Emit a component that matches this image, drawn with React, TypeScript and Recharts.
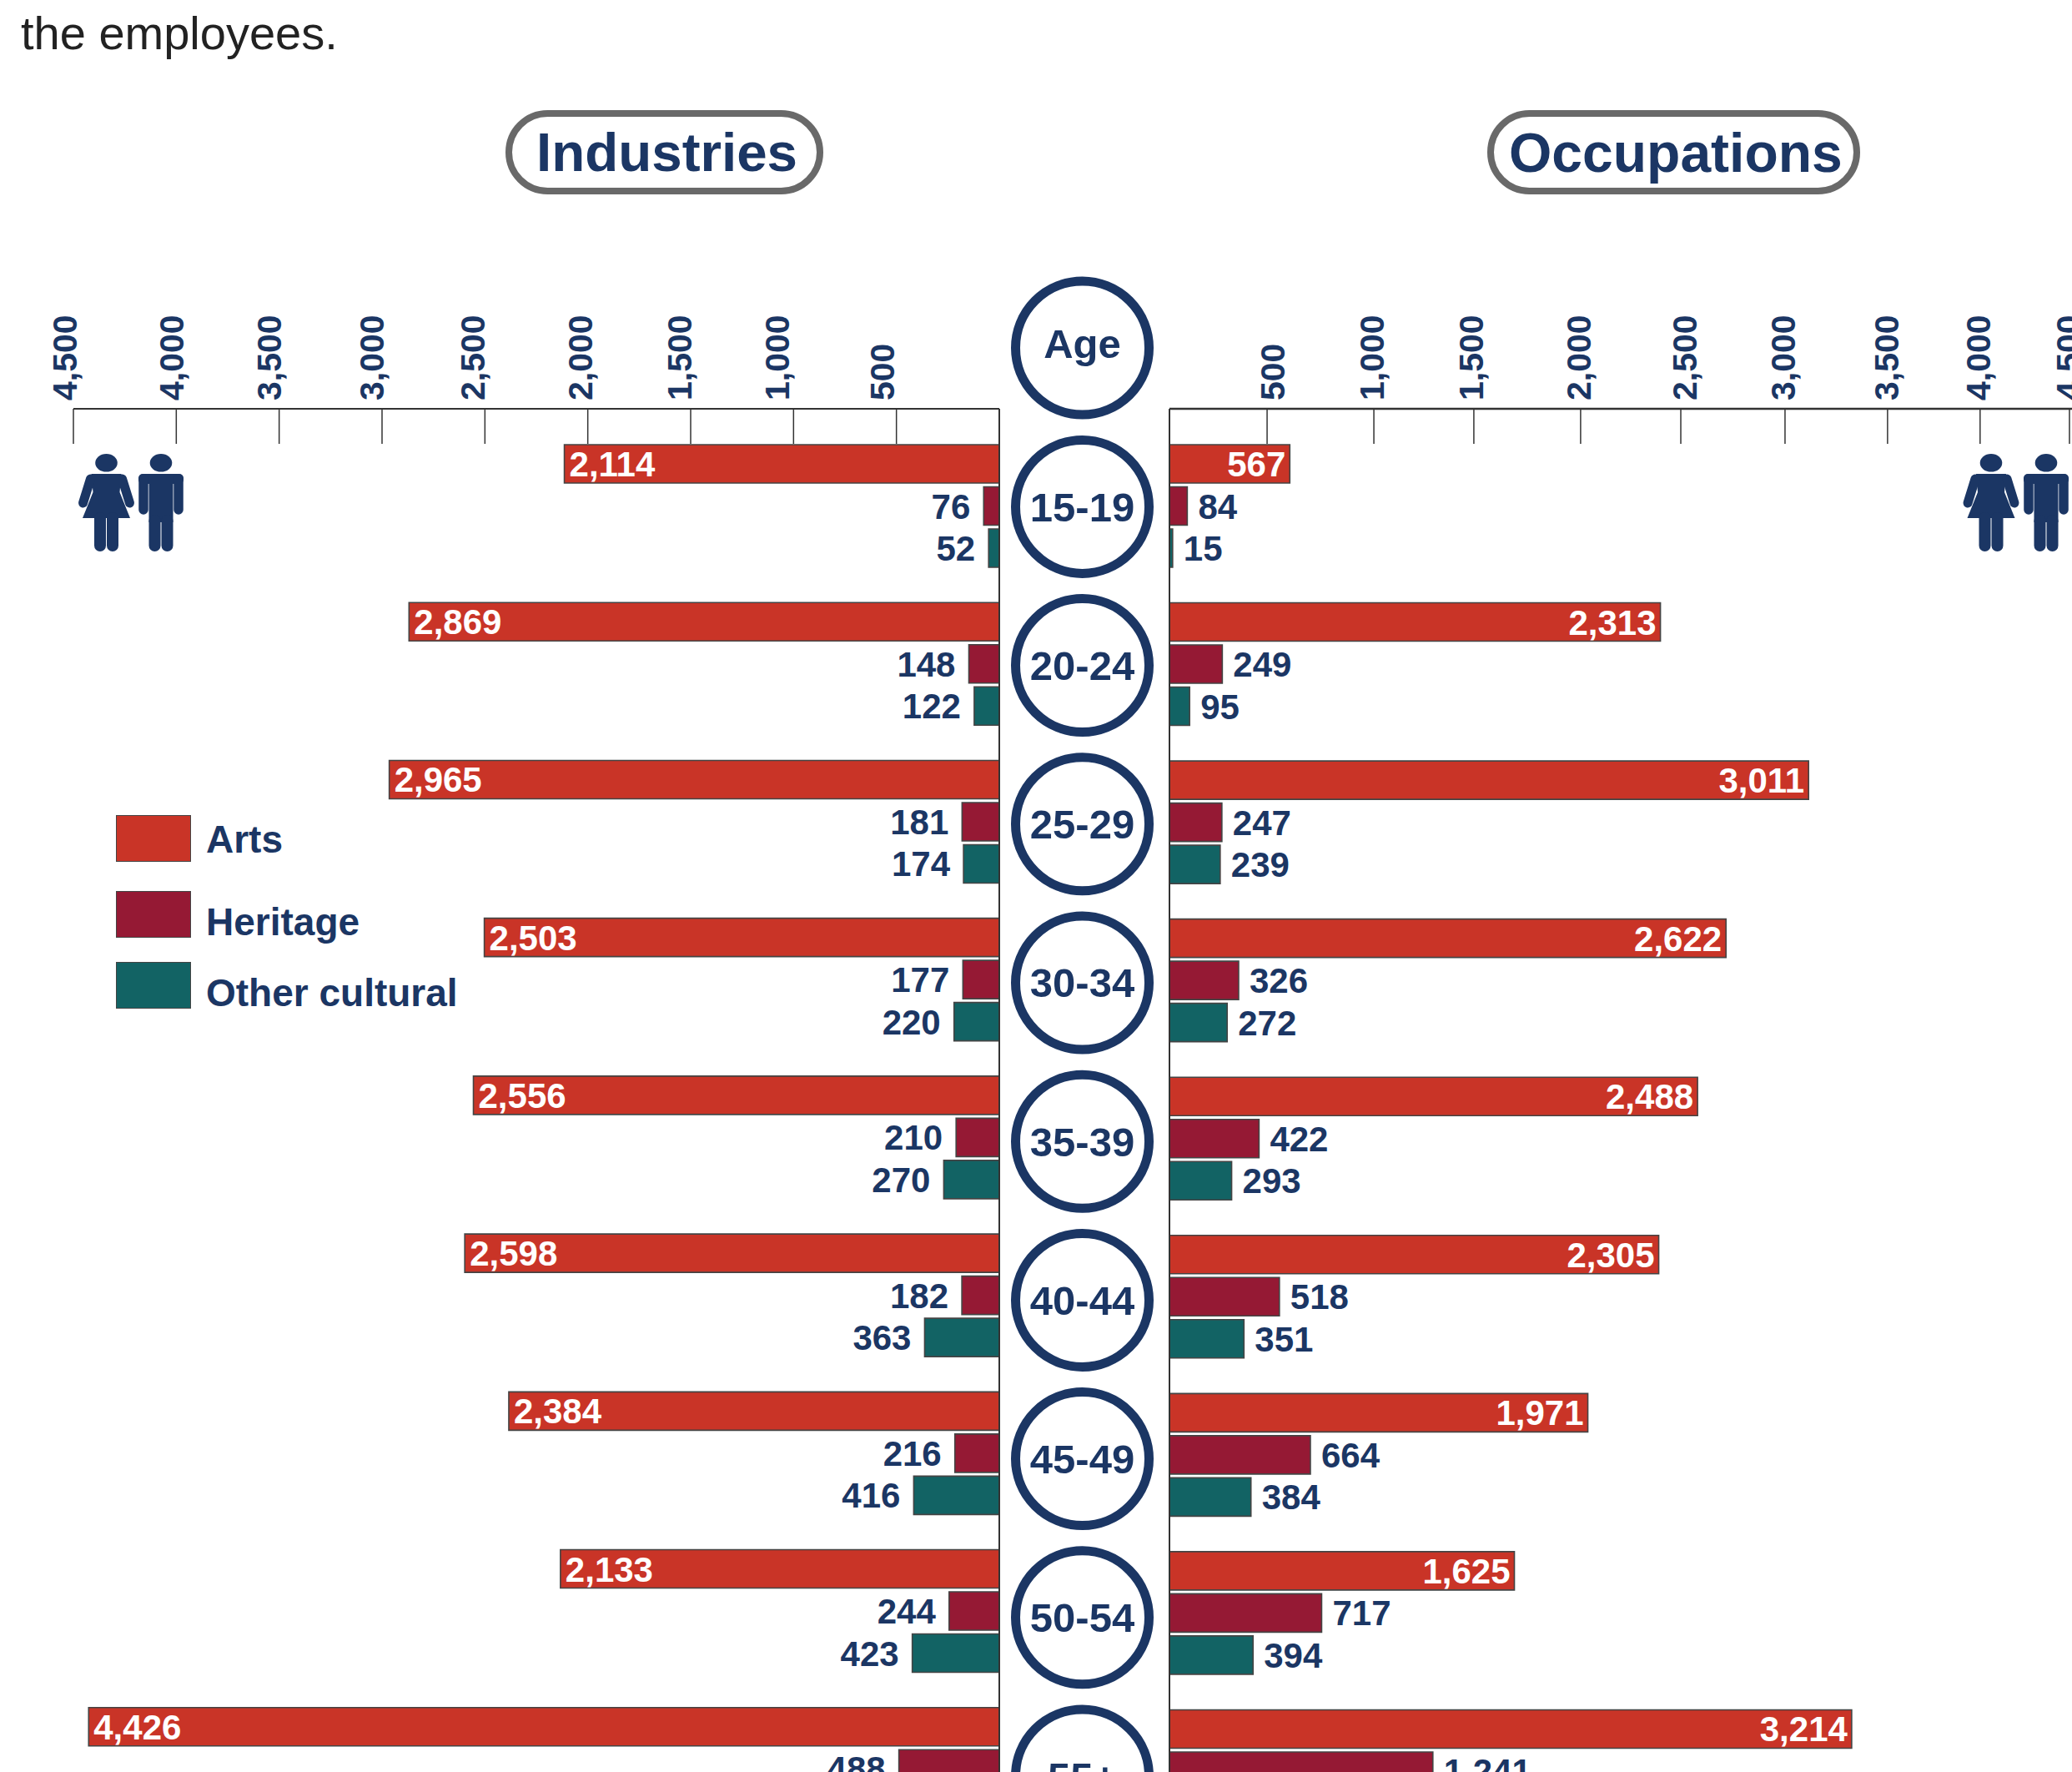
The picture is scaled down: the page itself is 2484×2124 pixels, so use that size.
import { Bar, BarChart, LabelList, XAxis, YAxis } from "recharts";

const ageGroups = ["15-19", "20-24", "25-29", "30-34", "35-39", "40-44", "45-49", "50-54", "55+"];

const industriesArts = [2114, 2869, 2965, 2503, 2556, 2598, 2384, 2133, 4426];
const industriesHeritage = [76, 148, 181, 177, 210, 182, 216, 244, 488];
// last group is cut off by the bottom of the picture
const industriesOther = [52, 122, 174, 220, 270, 363, 416, 423, null];

const occupationsArts = [567, 2313, 3011, 2622, 2488, 2305, 1971, 1625, 3214];
const occupationsHeritage = [84, 249, 247, 326, 422, 518, 664, 717, 1241];
const occupationsOther = [15, 95, 239, 272, 293, 351, 384, 394, null];

const tickLabels = ["500", "1,000", "1,500", "2,000", "2,500", "3,000", "3,500", "4,000", "4,500"];
const industryTicks = [500, 1000, 1500, 2000, 2500, 3000, 3500, 4000, 4500];
// The printed occupations axis doesn't line up with its own bars, so these are
// where each label really lands when read on the bars' scale.
const occupationTicks = [460, 963, 1434, 1937, 2409, 2900, 3383, 3819, 4240];

const seriesNames = ["Arts", "Heritage", "Other cultural"];
const seriesColors = ["#C93427", "#951934", "#126364"];

const NAVY = "#1B3664";
const FONT = '"Liberation Sans", Arial, sans-serif';
const AXIS_COLOR = "#333333";
const BAR_EDGE = "#444444";

const industriesData = ageGroups.map((age, i) => ({
  age,
  arts: industriesArts[i],
  heritage: industriesHeritage[i],
  other: industriesOther[i],
}));

const occupationsData = ageGroups.map((age, i) => ({
  age,
  arts: occupationsArts[i],
  heritage: occupationsHeritage[i],
  other: occupationsOther[i],
}));

// label x offsets, the source labels sit a bit off their ticks
const industryLabelNudge = [-17, -19, -13, -9, -14, -12, -12, -5, -10];
const occupationLabelNudge = [7, -2, -3, -2, 5, -2, -1, -2, -1];

function axisTick(labelNudge: number[]) {
  return (props: any) => {
    const { x, y, index } = props;
    return (
      <g>
        <line x1={x} x2={x} y1={y} y2={y + 42} stroke={AXIS_COLOR} strokeWidth={1.5} />
        <text
          transform={`translate(${x + labelNudge[index]},${y - 10}) rotate(-90)`}
          dominantBaseline="central"
          fontFamily={FONT}
          fontWeight={700}
          fontSize={41}
          fill={NAVY}
        >
          {tickLabels[index]}
        </text>
      </g>
    );
  };
}

function AgeCircle({ cx, cy, label, lift = 0 }: { cx: number; cy: number; label: string; lift?: number }) {
  return (
    <g>
      <ellipse cx={cx} cy={cy} rx={80} ry={80} fill="#fff" stroke={NAVY} strokeWidth={11} />
      <text
        x={cx}
        y={cy + 17.5 - lift}
        textAnchor="middle"
        fontFamily={FONT}
        fontWeight={700}
        fontSize={49}
        fill={NAVY}
      >
        {label}
      </text>
    </g>
  );
}

function ageTick(props: any) {
  const { x, y, index, payload } = props;
  // circles run on a slightly longer pitch than the bar groups
  return <AgeCircle cx={x - 104.5} cy={y + 0.6 + index * 0.65} label={payload.value} />;
}

function valueLabel(side: "left" | "right", inside: boolean) {
  return (props: any) => {
    const { x, y, width, height, value } = props;
    if (value == null) return null;
    const start = Math.min(x, x + width);
    const end = Math.max(x, x + width);
    let tx = 0;
    let anchor = "start";
    if (side === "left") {
      tx = inside ? start + 6 : start - 16;
      anchor = inside ? "start" : "end";
    } else {
      tx = inside ? end - 5 : end + 13;
      anchor = inside ? "end" : "start";
    }
    return (
      <text
        x={tx}
        y={y + height / 2 + 15}
        textAnchor={anchor as any}
        fontFamily={FONT}
        fontWeight={700}
        fontSize={42}
        fill={inside ? "#fff" : NAVY}
      >
        {Number(value).toLocaleString("en-US")}
      </text>
    );
  };
}

function seriesBars(side: "left" | "right") {
  return ["arts", "heritage", "other"].map((key, i) => (
    <Bar
      key={key}
      dataKey={key}
      name={seriesNames[i]}
      fill={seriesColors[i]}
      stroke={BAR_EDGE}
      strokeWidth={1.6}
      barSize={46}
      isAnimationActive={false}
    >
      <LabelList dataKey={key} content={valueLabel(side, i === 0)} />
    </Bar>
  ));
}

function Woman({ x, y }: { x: number; y: number }) {
  return (
    <g transform={`translate(${x},${y})`} fill={NAVY} stroke={NAVY} strokeLinecap="round">
      <ellipse cx={0} cy={10.8} rx={13.3} ry={10.8} stroke="none" />
      <path d="M-18,24 L18,24 L16,46 L28.5,77 L-28.5,77 L-16,46 Z" stroke="none" />
      <line x1={-19} y1={30} x2={-28} y2={59} strokeWidth={11} />
      <line x1={19} y1={30} x2={28} y2={59} strokeWidth={11} />
      <line x1={-7.5} y1={77} x2={-7.5} y2={110} strokeWidth={14} />
      <line x1={7.5} y1={77} x2={7.5} y2={110} strokeWidth={14} />
    </g>
  );
}

function Man({ x, y }: { x: number; y: number }) {
  return (
    <g transform={`translate(${x},${y})`} fill={NAVY} stroke={NAVY} strokeLinecap="round">
      <ellipse cx={0} cy={10.8} rx={13.3} ry={10.8} stroke="none" />
      <rect x={-27} y={24} width={54} height={12} rx={5} stroke="none" />
      <rect x={-14.5} y={24} width={29} height={58} stroke="none" />
      <line x1={-21} y1={30} x2={-21} y2={67} strokeWidth={11.5} />
      <line x1={21} y1={30} x2={21} y2={67} strokeWidth={11.5} />
      <line x1={-7.5} y1={80} x2={-7.5} y2={110} strokeWidth={14} />
      <line x1={7.5} y1={80} x2={7.5} y2={110} strokeWidth={14} />
    </g>
  );
}

function Pill({ left, top, width, height, label, textLeft, fontSize }: any) {
  return (
    <div
      style={{
        position: "absolute",
        left,
        top,
        width,
        height,
        boxSizing: "border-box",
        border: "8px solid #696969",
        borderRadius: 51,
        background: "#fff",
      }}
    >
      <span
        style={{
          position: "absolute",
          left: textLeft,
          top: "50%",
          transform: "translateY(-50%)",
          fontFamily: FONT,
          fontWeight: 700,
          fontSize,
          lineHeight: 1,
          color: NAVY,
        }}
      >
        {label}
      </span>
    </div>
  );
}

const legendTops = [977, 1068, 1153];
const legendTextTops = [981, 1080, 1165];

export default function App() {
  return (
    <div style={{ position: "absolute", left: 0, top: 0, width: 2484, height: 2124, overflow: "hidden", background: "#fff" }}>
      <div style={{ position: "absolute", left: 25, top: 8, fontFamily: FONT, fontSize: 56, lineHeight: "64px", color: "#222" }}>
        the employees.
      </div>

      <Pill left={606} top={132} width={381} height={101} label="Industries" textLeft={29} fontSize={65.5} />
      <Pill left={1783} top={132} width={447} height={101} label="Occupations" textLeft={18} fontSize={66} />

      <div style={{ position: "absolute", left: 0, top: 330 }}>
        <BarChart
          width={1200}
          height={1885}
          layout="vertical"
          data={industriesData}
          barGap={4.5}
          margin={{ top: 0, right: 0, bottom: 0, left: 88 }}
        >
          <XAxis
            type="number"
            orientation="top"
            reversed
            domain={[0, 4500]}
            ticks={industryTicks}
            interval={0}
            height={160}
            tickLine={false}
            tickSize={0}
            tickMargin={0}
            axisLine={{ stroke: AXIS_COLOR, strokeWidth: 2 }}
            tick={axisTick(industryLabelNudge)}
          />
          <YAxis
            type="category"
            dataKey="age"
            orientation="right"
            width={2}
            tick={false}
            tickLine={false}
            padding={{ top: 22, bottom: 0 }}
            axisLine={{ stroke: AXIS_COLOR, strokeWidth: 2 }}
          />
          {seriesBars("left")}
        </BarChart>
      </div>

      <div style={{ position: "absolute", left: 1200, top: 330 }}>
        <BarChart
          width={1284}
          height={1888}
          layout="vertical"
          data={occupationsData}
          barGap={4.5}
          margin={{ top: 0, right: 0, bottom: 0, left: 0 }}
        >
          <XAxis
            type="number"
            orientation="top"
            domain={[0, 4252]}
            ticks={occupationTicks}
            interval={0}
            height={160}
            tickLine={false}
            tickSize={0}
            tickMargin={0}
            axisLine={{ stroke: AXIS_COLOR, strokeWidth: 2.5 }}
            tick={axisTick(occupationLabelNudge)}
          />
          <YAxis
            type="category"
            dataKey="age"
            orientation="left"
            width={202}
            interval={0}
            tickLine={false}
            tickSize={0}
            tickMargin={0}
            padding={{ top: 22, bottom: 0 }}
            axisLine={{ stroke: AXIS_COLOR, strokeWidth: 2 }}
            tick={ageTick}
          />
          {seriesBars("right")}
        </BarChart>
      </div>

      <svg width={2484} height={2124} style={{ position: "absolute", left: 0, top: 0, pointerEvents: "none" }}>
        <AgeCircle cx={1297.5} cy={417} label="Age" lift={6} />
        <Woman x={127.5} y={544} />
        <Man x={193} y={544} />
        <Woman x={2387} y={544} />
        <Man x={2453} y={544} />
      </svg>

      {seriesNames.map((name, i) => (
        <div key={name}>
          <div
            style={{
              position: "absolute",
              left: 139,
              top: legendTops[i],
              width: 90,
              height: 56,
              boxSizing: "border-box",
              background: seriesColors[i],
              border: `1.5px solid ${BAR_EDGE}`,
            }}
          />
          <div
            style={{
              position: "absolute",
              left: 247,
              top: legendTextTops[i],
              fontFamily: FONT,
              fontWeight: 700,
              fontSize: 46,
              lineHeight: "50px",
              color: NAVY,
              whiteSpace: "nowrap",
            }}
          >
            {name}
          </div>
        </div>
      ))}
    </div>
  );
}
